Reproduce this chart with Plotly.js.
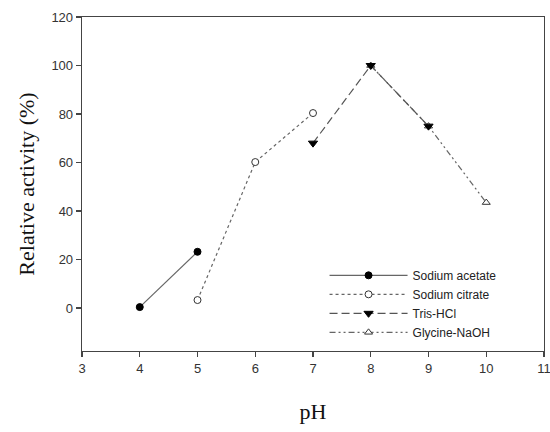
<!DOCTYPE html>
<html><head><meta charset="utf-8">
<script src="https://cdn.plot.ly/plotly-3.0.1.min.js"></script>
<style>body{margin:0;background:#fff}#chart{width:550px;height:432px}</style>
</head><body><div id="chart"></div>
<script>
const acetateX = [4, 5];
const acetateY = [0.4, 23.2];
const citrateX = [5, 6, 7];
const citrateY = [3.3, 60.2, 80.4];
const trisX = [7, 8, 9];
const trisY = [68, 100, 75];
const glycineX = [8, 9, 10];
const glycineY = [100, 75, 43.5];
const xTicks = [3, 4, 5, 6, 7, 8, 9, 10, 11];
const yTicks = [0, 20, 40, 60, 80, 100, 120];

const lineCol = '#666';
const traces = [
  {x: acetateX, y: acetateY, name: 'Sodium acetate', mode: 'lines+markers', legendrank: 1,
   line: {color: lineCol, width: 1.2, dash: 'solid'},
   marker: {symbol: 'circle', size: 7, color: '#000', line: {color: '#000', width: 1}}},
  {x: citrateX, y: citrateY, name: 'Sodium citrate', mode: 'lines+markers', legendrank: 2,
   line: {color: lineCol, width: 1.2, dash: 'dot'},
   marker: {symbol: 'circle', size: 7, color: '#fff', line: {color: '#333', width: 1}}},
  {x: glycineX, y: glycineY, name: 'Glycine-NaOH', mode: 'lines+markers', legendrank: 4,
   line: {color: lineCol, width: 1.2, dash: '6px,3px,2px,3px,2px,3px'},
   marker: {symbol: 'triangle-up', size: 7, color: '#fff', line: {color: '#333', width: 1}}},
  {x: trisX, y: trisY, name: 'Tris-HCl', mode: 'lines+markers', legendrank: 3,
   line: {color: '#555', width: 1.2, dash: '8px,4px'},
   marker: {symbol: 'triangle-down', size: 8, color: '#000', line: {color: '#000', width: 1}}}
];

const axisCommon = {
  showgrid: false, zeroline: false, showline: true, mirror: true,
  linecolor: '#444', linewidth: 1.3, ticks: 'outside', ticklen: 5, tickwidth: 1.2,
  tickcolor: '#444', ticklabeloverflow: 'allow',
  tickfont: {family: 'Liberation Sans, Arial', size: 13, color: '#333'}
};
const layout = {
  width: 550, height: 432,
  margin: {l: 82, r: 6, t: 17, b: 81},
  paper_bgcolor: '#fff', plot_bgcolor: '#fff',
  showlegend: true,
  legend: {x: 0.525, y: 0.27, xanchor: 'left', yanchor: 'top', bgcolor: 'rgba(0,0,0,0)',
           font: {family: 'Liberation Sans, Arial', size: 12, color: '#222'},
           itemwidth: 78, tracegroupgap: 0, traceorder: 'normal'},
  xaxis: Object.assign({}, axisCommon, {range: [3, 11], tickvals: xTicks, ticktext: xTicks.map(String),
    title: {text: 'pH', font: {family: 'Liberation Serif, Times New Roman', size: 22, color: '#111'}, standoff: 28}}),
  yaxis: Object.assign({}, axisCommon, {range: [-17.7, 120], tickvals: yTicks, ticktext: yTicks.map(String),
    title: {text: 'Relative activity (%)', font: {family: 'Liberation Serif, Times New Roman', size: 22, color: '#111'}, standoff: 10}})
};
Plotly.newPlot('chart', traces, layout, {displayModeBar: false, staticPlot: true});
</script></body></html>
